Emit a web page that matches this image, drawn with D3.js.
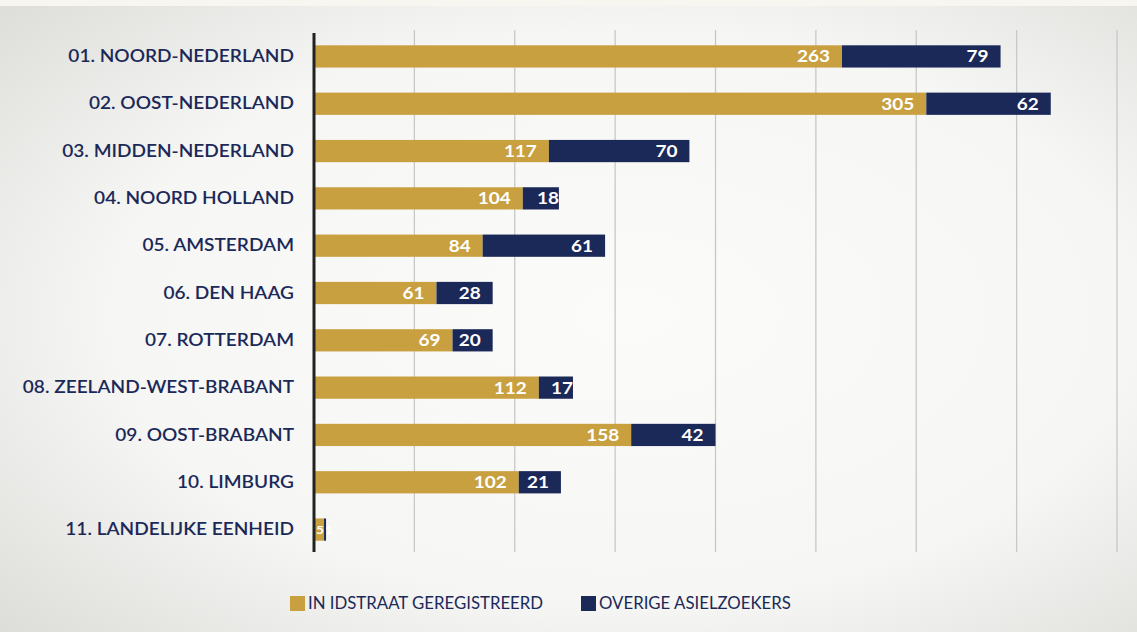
<!DOCTYPE html>
<html>
<head>
<meta charset="utf-8">
<script src="https://cdn.jsdelivr.net/npm/d3@7"></script>
<style>
  html, body { margin: 0; padding: 0; background: #ececea; }
  svg { display: block; }
</style>
</head>
<body>
<svg id="chart" width="1137" height="632"></svg>
<script>
// Eenheden en aantallen per categorie
const regions = [
  "01. NOORD-NEDERLAND",
  "02. OOST-NEDERLAND",
  "03. MIDDEN-NEDERLAND",
  "04. NOORD HOLLAND",
  "05. AMSTERDAM",
  "06. DEN HAAG",
  "07. ROTTERDAM",
  "08. ZEELAND-WEST-BRABANT",
  "09. OOST-BRABANT",
  "10. LIMBURG",
  "11. LANDELIJKE EENHEID"
];
const geregistreerd = [263, 305, 117, 104, 84, 61, 69, 112, 158, 102, 5];
const overige = [79, 62, 70, 18, 61, 28, 20, 17, 42, 21, 1];
const gridTicks = [0, 50, 100, 150, 200, 250, 300, 350, 400];
const seriesNames = ["IN IDSTRAAT GEREGISTREERD", "OVERIGE ASIELZOEKERS"];
const seriesColors = ["#c9a03f", "#1b2959"];

const FONT = "Lato, 'Open Sans', sans-serif";
const svg = d3.select("#chart");
const W = 1137, H = 632;

// achtergrond: lichte vignet
const defs = svg.append("defs");
const rg = defs.append("radialGradient").attr("id", "bg")
  .attr("cx", "0.55").attr("cy", "0.5").attr("r", "0.75");
rg.append("stop").attr("offset", "0").attr("stop-color", "#fbfbf9");
rg.append("stop").attr("offset", "0.6").attr("stop-color", "#f6f6f4");
rg.append("stop").attr("offset", "1").attr("stop-color", "#dcdcd9");
svg.append("rect").attr("width", W).attr("height", H).attr("fill", "url(#bg)");
svg.append("rect").attr("width", W).attr("height", 6).attr("fill", "#f7f6f1");

const x = d3.scaleLinear().domain([0, 400]).range([314, 1117]);
const y = d3.scaleBand().domain(regions).range([33, 553]).paddingInner(0.53).paddingOuter(0.26);

// rasterlijnen
svg.append("g").selectAll("line").data(gridTicks.slice(1)).join("line")
  .attr("x1", d => x(d)).attr("x2", d => x(d))
  .attr("y1", 30).attr("y2", 552)
  .attr("stroke", "#c8c8c8").attr("stroke-width", 1.3);

const rows = regions.map((r, i) => ({ r, a: geregistreerd[i], b: overige[i] }));

// balken
const g = svg.append("g");
g.selectAll("rect.a").data(rows).join("rect").attr("class", "a")
  .attr("x", x(0)).attr("y", d => y(d.r))
  .attr("width", d => x(d.a) - x(0)).attr("height", y.bandwidth())
  .attr("fill", seriesColors[0]);
g.selectAll("rect.b").data(rows).join("rect").attr("class", "b")
  .attr("x", d => x(d.a)).attr("y", d => y(d.r))
  .attr("width", d => x(d.a + d.b) - x(d.a)).attr("height", y.bandwidth())
  .attr("fill", seriesColors[1]);

// waardelabels, iets breder getekend (schaal in x)
const SV = 1.15;
const lbl = svg.append("g")
  .attr("font-family", FONT)
  .attr("font-weight", "bold").attr("font-size", 16.5).attr("fill", "#ffffff");
function placeLabel(sel, px, anchor, size) {
  sel.attr("transform", d => `translate(${px(d)},${y(d.r) + y.bandwidth() / 2}) scale(${SV},1)`)
    .attr("dy", "0.36em")
    .attr("text-anchor", anchor)
    .attr("font-size", d => d.a < 20 ? size : null);
}
lbl.selectAll("text.a").data(rows).join("text").attr("class", "a")
  .call(placeLabel, d => d.a < 20 ? x(0) + 2 : x(d.a) - 12, d => d.a < 20 ? "start" : "end", 12)
  .text(d => d.a);
lbl.selectAll("text.b").data(rows).join("text").attr("class", "b")
  .call(placeLabel, d => d.a < 20 ? x(0) + 11 : (d.b < 20 ? x(d.a + d.b) : x(d.a + d.b) - 12),
        d => d.a < 20 ? "start" : "end", 12)
  .text(d => d.b);

// as
const SA = 1.09;
const yAxis = svg.append("g").attr("transform", `translate(${x(0)},0)`)
  .call(d3.axisLeft(y).tickSize(0).tickPadding(20));
yAxis.select(".domain").attr("d", "M0,33V552").attr("stroke", "#222").attr("stroke-width", 3);
yAxis.selectAll(".tick text")
  .attr("x", -20 / SA)
  .attr("transform", `scale(${SA},1)`)
  .attr("font-family", FONT)
  .attr("font-size", 17.5).attr("font-weight", 600)
  .attr("fill", "#1b2959");

// legenda
const leg = svg.append("g").attr("font-family", FONT)
  .attr("font-size", 16.8).attr("fill", "#1b2959");
const legX = [290, 581];
seriesNames.forEach((name, i) => {
  leg.append("rect").attr("x", legX[i]).attr("y", 596).attr("width", 15).attr("height", 15)
    .attr("fill", seriesColors[i]);
  leg.append("text")
    .attr("x", legX[i] + 18).attr("y", 603)
    .attr("dy", "0.36em").text(name);
});
</script>
</body>
</html>
